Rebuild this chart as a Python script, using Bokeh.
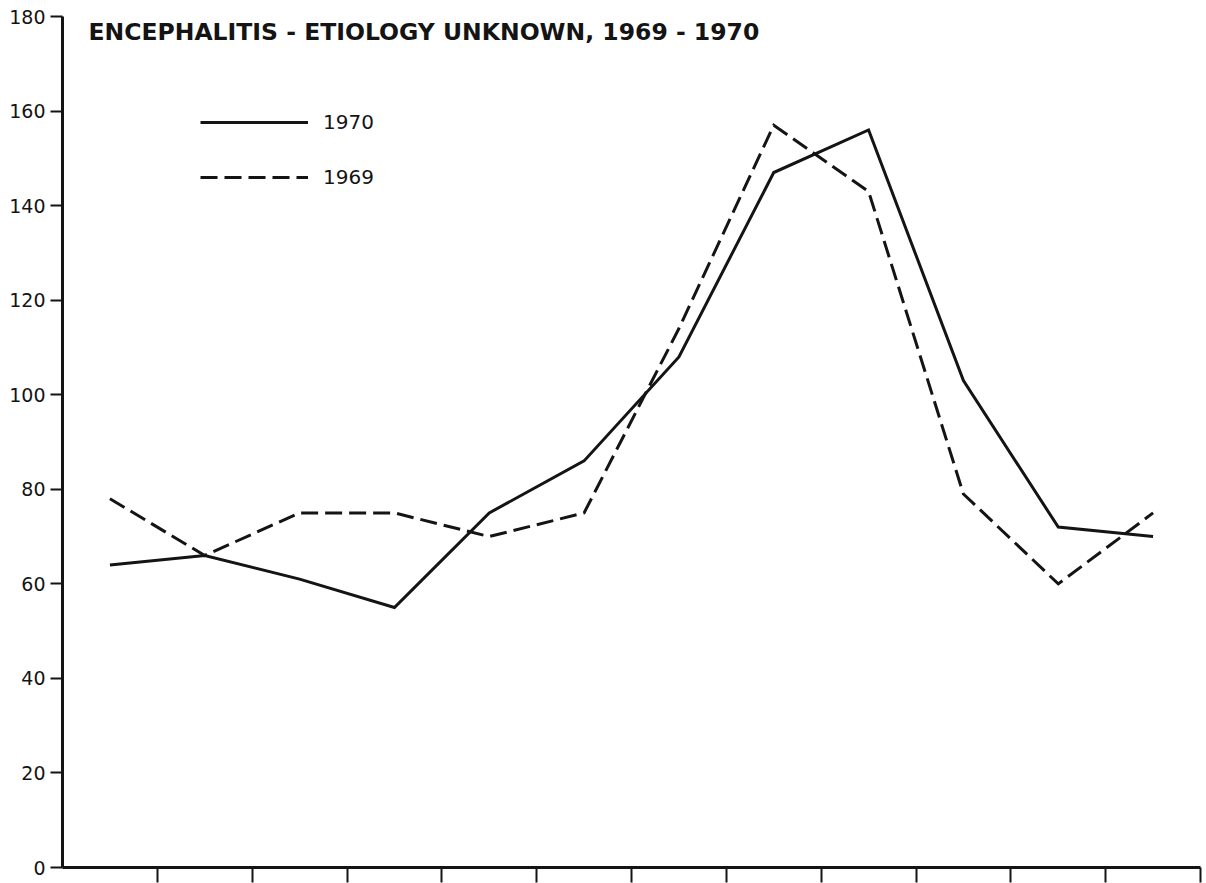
from bokeh.plotting import figure
from bokeh.models import FixedTicker, Label, Legend, LegendItem, Range1d
from bokeh.embed import file_html
from bokeh.resources import INLINE

# ---- data (monthly cases) ----
months = ["Jan", "Feb", "Mar", "Apr", "May", "Jun",
          "Jul", "Aug", "Sep", "Oct", "Nov", "Dec"]
cases_1970 = [64, 66, 61, 55, 75, 86, 108, 147, 156, 103, 72, 70]
cases_1969 = [78, 66, 75, 75, 70, 75, 114, 157, 143, 79, 60, 75]
y_ticks = [0, 20, 40, 60, 80, 100, 120, 140, 160, 180]
title_text = "ENCEPHALITIS - ETIOLOGY UNKNOWN,  1969 - 1970"

x_pos = [i + 0.5 for i in range(len(months))]
x_ticks = list(range(1, len(months) + 1))

FONT = "DejaVu Sans"
INK = "#141414"

p = figure(width=1206, height=883, output_backend="svg", toolbar_location=None,
           x_range=Range1d(0, 12), y_range=Range1d(0, 180),
           min_border_left=62, min_border_right=6, min_border_top=16, min_border_bottom=16)
p.outline_line_color = None
p.xgrid.visible = False
p.ygrid.visible = False
p.background_fill_color = "white"
p.border_fill_color = "white"

# axes
xa = p.xaxis[0]
xa.ticker = FixedTicker(ticks=x_ticks)
xa.major_label_text_font_size = "0px"
xa.major_label_standoff = 0
xa.major_label_overrides = {t: "" for t in x_ticks}
xa.major_tick_out = 15
xa.major_tick_in = 0
xa.minor_tick_line_color = None
xa.axis_line_width = 3
xa.axis_line_color = INK
xa.major_tick_line_width = 2
xa.major_tick_line_color = INK

ya = p.yaxis[0]
ya.ticker = FixedTicker(ticks=y_ticks)
ya.major_tick_out = 12
ya.major_tick_in = 0
ya.minor_tick_line_color = None
ya.axis_line_width = 3
ya.axis_line_color = INK
ya.major_tick_line_width = 2
ya.major_tick_line_color = INK
ya.major_label_text_font = FONT
ya.major_label_text_font_size = "19px"
ya.major_label_text_color = INK
ya.major_label_standoff = 5

r70 = p.line(x_pos, cases_1970, line_color=INK, line_width=3, line_join="miter")
r69 = p.line(x_pos, cases_1969, line_color=INK, line_width=3, line_dash="17 7",
             line_join="miter")

legend = Legend(items=[LegendItem(label="1970", renderers=[r70]),
                       LegendItem(label="1969", renderers=[r69])],
                location=(138, 678), orientation="vertical",
                glyph_width=108, glyph_height=20, label_height=20,
                label_standoff=15, spacing=31, padding=0, margin=0,
                border_line_color=None, background_fill_alpha=0,
                label_text_font=FONT, label_text_font_size="20px",
                label_text_color=INK)
p.add_layout(legend, "center")

title = Label(x=26, y=836, x_units="screen", y_units="screen", text=title_text,
              text_font=FONT, text_font_size="23.5px", text_font_style="bold",
              text_color=INK, text_baseline="middle", text_align="left")
p.add_layout(title)

open("out.html", "w").write(file_html(p, INLINE))
